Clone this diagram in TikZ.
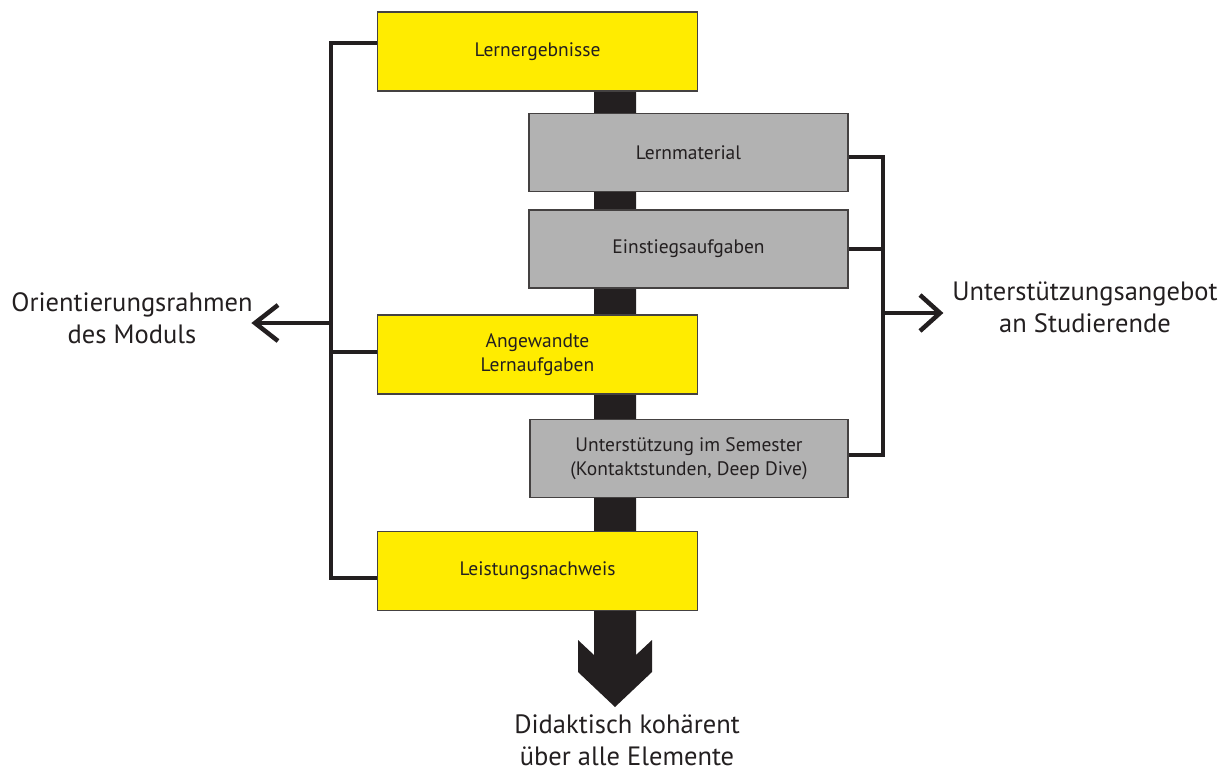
\documentclass[tikz,border=0pt]{standalone}
\usepackage{fontspec}
\setmainfont{PT Sans}
\definecolor{ink}{HTML}{231F20}
\definecolor{ylw}{HTML}{FFEC00}
\definecolor{gry}{HTML}{B2B2B2}
\begin{document}
\begin{tikzpicture}[x=1pt,y=-1pt,
  box/.style={draw=ink!85, line width=1.5pt, minimum width=320pt, minimum height=79pt, inner sep=0pt, align=center, font=\fontsize{19.5}{24}\selectfont, text=ink},
  ybox/.style={box, fill=ylw},
  gbox/.style={box, fill=gry, minimum width=319pt, minimum height=78pt},
  brk/.style={draw=ink, line width=4.5pt},
  lbl/.style={align=center, font=\fontsize{26.5}{32}\selectfont, text=ink},
  chev/.style={draw=ink, line width=4.5pt}]
\useasboundingbox (0,0) rectangle (1228,772);
% central bar and arrow
\coordinate (tip) at (615,707);
\fill[ink] (594,91) -- (636,91) -- (636,655) -- (652,640) -- (652,672) -- (tip) -- (578,672) -- (578,640) -- (594,655) -- cycle;
% boxes
\node[ybox] (erg) at (537.5,51.5) {Lernergebnisse};
\node[gbox] (mat) at (688.5,152.5) {Lernmaterial};
\node[gbox] (ein) at (688.5,249) {Einstiegsaufgaben};
\node[ybox] (ang) at (537.5,354.5) {Angewandte\\Lernaufgaben};
\node[gbox, minimum width=318pt] (unt) at (689,458.5) {Unterstützung im Semester\\(Kontaktstunden, Deep Dive)};
\node[ybox] (lei) at (537.5,571) {Leistungsnachweis};
% left bracket
\coordinate (lt) at (331,43);
\coordinate (lb) at (331,578);
\coordinate (lm) at (331,323);
\coordinate (la) at (255,323);
\coordinate (angb) at ([yshift=2.5pt]ang.west);
\draw[brk, line join=miter] ([yshift=8.5pt]erg.west) -- (lt) -- (lb) -- ([yshift=-7pt]lei.west);
\draw[brk] (angb) -- (angb -| lt);
\draw[brk] (lm) -- ([xshift=2pt]la);
\draw[chev, line join=miter] ([xshift=23pt,yshift=18pt]la) -- (la) -- ([xshift=23pt,yshift=-18pt]la);
\node[lbl] (lo) at (132,318) {Orientierungsrahmen\\des Moduls};
% right bracket
\coordinate (rt) at (883,157);
\coordinate (rb) at (883,455);
\coordinate (rm) at (883,313);
\coordinate (ra) at (940,313);
\draw[brk, line join=miter] ([yshift=-4.5pt]mat.east) -- (rt) -- (rb) -- ([yshift=3.5pt]unt.east);
\draw[brk] (ein.east) -- (ein.east -| rt);
\draw[brk] (rm) -- ([xshift=-2pt]ra);
\draw[chev, line join=miter] ([xshift=-20pt,yshift=18pt]ra) -- (ra) -- ([xshift=-20pt,yshift=-18pt]ra);
\node[lbl] (ro) at (1085,307) {Unterstützungsangebot\\an Studierende};
% bottom label
\node[lbl] (bo) at (627,740) {Didaktisch kohärent\\über alle Elemente};
\end{tikzpicture}
\end{document}
